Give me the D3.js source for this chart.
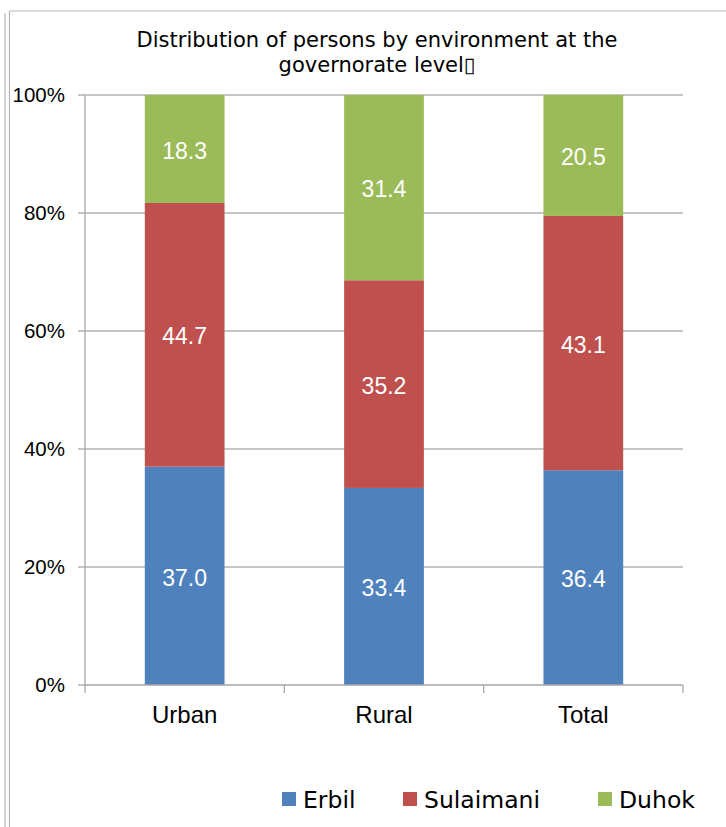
<!DOCTYPE html>
<html>
<head>
<meta charset="utf-8">
<script src="https://cdn.jsdelivr.net/npm/d3@7"></script>
<style>
  html, body { margin: 0; padding: 0; background: #fff; }
  svg { display: block; }
</style>
</head>
<body>
<svg id="chart" width="726" height="827"></svg>
<script>
const categories = ["Urban", "Rural", "Total"];
const seriesNames = ["Erbil", "Sulaimani", "Duhok"];
const erbil = [37.0, 33.4, 36.4];
const sulaimani = [44.7, 35.2, 43.1];
const duhok = [18.3, 31.4, 20.5];
const yTicks = [0, 20, 40, 60, 80, 100];
const colors = ["#4F81BD", "#C0504D", "#9BBB59"];
const titleLines = ["Distribution of persons by environment at the", "governorate level\u25AF"];

const svg = d3.select("#chart");

// outer frame lines
svg.append("line").attr("x1", 5).attr("x2", 5).attr("y1", 13).attr("y2", 827)
  .attr("stroke", "#b5b5b5").attr("stroke-width", 1.2);
svg.append("line").attr("x1", 9.5).attr("x2", 9.5).attr("y1", 11).attr("y2", 827)
  .attr("stroke", "#b5b5b5").attr("stroke-width", 1.2);
svg.append("line").attr("x1", 9.5).attr("x2", 726).attr("y1", 11).attr("y2", 11)
  .attr("stroke", "#b5b5b5").attr("stroke-width", 1.2);

const rows = categories.map((c, i) => ({cat: c, Erbil: erbil[i], Sulaimani: sulaimani[i], Duhok: duhok[i]}));
const stacked = d3.stack().keys(seriesNames)(rows);

const x = d3.scaleBand().domain(categories).range([85, 683]).padding(0);
const y = d3.scaleLinear().domain([0, 100]).range([685, 95]);
const color = d3.scaleOrdinal().domain(seriesNames).range(colors);
const barW = x.bandwidth() * 0.4;

// gridlines
svg.append("g").selectAll("line").data(yTicks.filter(t => t > 0)).join("line")
  .attr("x1", 85).attr("x2", 683)
  .attr("y1", d => y(d)).attr("y2", d => y(d))
  .attr("stroke", "#b3b3b3").attr("stroke-width", 1.3);

// bars
const layers = svg.append("g").selectAll("g").data(stacked).join("g")
  .attr("fill", d => color(d.key));
layers.selectAll("rect").data(d => d).join("rect")
  .attr("x", d => x(d.data.cat) + (x.bandwidth() - barW) / 2)
  .attr("y", d => y(d[1]))
  .attr("width", barW)
  .attr("height", d => y(d[0]) - y(d[1]));

// data labels
layers.selectAll("text").data(d => d.map(v => ({v, key: d.key}))).join("text")
  .attr("x", d => x(d.v.data.cat) + x.bandwidth() / 2)
  .attr("y", d => y((d.v[0] + d.v[1]) / 2))
  .attr("dy", "0.42em")
  .attr("text-anchor", "middle")
  .attr("fill", "#fff")
  .attr("font-family", "Liberation Sans, Arial, sans-serif")
  .attr("font-size", 23)
  .text(d => (d.v[1] - d.v[0]).toFixed(1));

// y axis line
svg.append("line").attr("x1", 85).attr("x2", 85).attr("y1", 95).attr("y2", 685)
  .attr("stroke", "#a6a6a6").attr("stroke-width", 1.3);
// x axis line
svg.append("line").attr("x1", 85).attr("x2", 683).attr("y1", 685).attr("y2", 685)
  .attr("stroke", "#a6a6a6").attr("stroke-width", 1.3);

// y ticks and labels
const yt = svg.append("g");
yt.selectAll("line").data(yTicks).join("line")
  .attr("x1", 78).attr("x2", 85).attr("y1", d => y(d)).attr("y2", d => y(d))
  .attr("stroke", "#a6a6a6").attr("stroke-width", 1.3);
yt.selectAll("text").data(yTicks).join("text")
  .attr("x", 65).attr("y", d => y(d)).attr("dy", "0.35em")
  .attr("text-anchor", "end")
  .attr("font-family", "Liberation Sans, Arial, sans-serif")
  .attr("font-size", 20.5).attr("fill", "#000")
  .text(d => d + "%");

// x ticks at band boundaries
const bounds = categories.map(c => x(c)).concat([x(categories[categories.length - 1]) + x.bandwidth()]);
svg.append("g").selectAll("line").data(bounds).join("line")
  .attr("x1", d => d).attr("x2", d => d).attr("y1", 685).attr("y2", 693)
  .attr("stroke", "#a6a6a6").attr("stroke-width", 1.3);

// category labels
svg.append("g").selectAll("text").data(categories).join("text")
  .attr("x", d => x(d) + x.bandwidth() / 2).attr("y", 723)
  .attr("text-anchor", "middle")
  .attr("font-family", "Liberation Sans, Arial, sans-serif")
  .attr("font-size", 24).attr("fill", "#000")
  .text(d => d);

// title
svg.append("g").selectAll("text").data(titleLines).join("text")
  .attr("x", 377).attr("y", (d, i) => 46.5 + i * 25)
  .attr("text-anchor", "middle")
  .attr("font-family", "DejaVu Sans, Verdana, sans-serif")
  .attr("font-size", 21).attr("fill", "#000")
  .text(d => d);

// legend
const legendX = [282, 403, 598];
const lg = svg.append("g").selectAll("g").data(seriesNames).join("g")
  .attr("transform", (d, i) => `translate(${legendX[i]},0)`);
lg.append("rect").attr("x", 0).attr("y", 792).attr("width", 14).attr("height", 14)
  .attr("fill", d => color(d));
lg.append("text").attr("x", 21).attr("y", 807.5)
  .attr("font-family", "DejaVu Sans, Verdana, sans-serif")
  .attr("font-size", 23.5).attr("fill", "#000")
  .text(d => d);
</script>
</body>
</html>
